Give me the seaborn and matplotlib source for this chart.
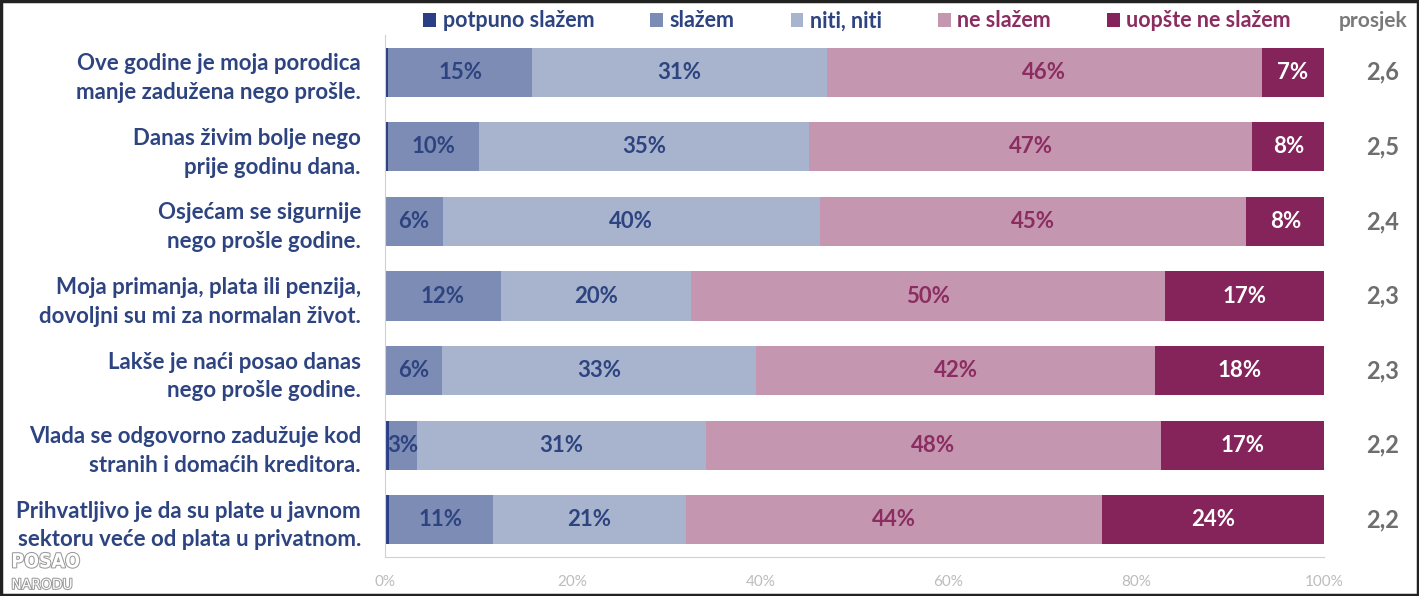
import numpy as np
import pandas as pd
import matplotlib
matplotlib.use("Agg")
import matplotlib.pyplot as plt
import matplotlib.patheffects as pe
from matplotlib.patches import Patch, Rectangle
import seaborn as sns

questions = [
    "Ove godine je moja porodica\nmanje zadužena nego prošle.",
    "Danas živim bolje nego\nprije godinu dana.",
    "Osjećam se sigurnije\nnego prošle godine.",
    "Moja primanja, plata ili penzija,\ndovoljni su mi za normalan život.",
    "Lakše je naći posao danas\nnego prošle godine.",
    "Vlada se odgovorno zadužuje kod\nstranih i domaćih kreditora.",
    "Prihvatljivo je da su plate u javnom\nsektoru veće od plata u privatnom.",
]
answers = ["potpuno slažem", "slažem", "niti, niti", "ne slažem", "uopšte ne slažem"]

potpuno = [0.4, 0.4, 0.0, 0.0, 0.0, 0.5, 0.5]
slazem = [15.3, 9.6, 6.2, 12.4, 6.1, 2.9, 11.0]
niti = [31.4, 35.2, 40.1, 20.2, 33.4, 30.8, 20.6]
ne_slazem = [46.2, 47.1, 45.4, 50.4, 42.5, 48.4, 44.2]
uopste = [6.7, 7.7, 8.3, 17.0, 18.0, 17.4, 23.7]
prosjek = [2.6, 2.5, 2.4, 2.3, 2.3, 2.2, 2.2]

colors = ["#2b3f86", "#7d8cb4", "#a8b3cd", "#c596b0", "#84245a"]
label_colors = [None, "#2e4480", "#2e4480", "#8b2d60", "#ffffff"]
blue_txt = "#2e4480"
mag_txt = "#8b2d60"
grey_txt = "#6e6e6e"

sns.set_style("white")
plt.rcParams["font.family"] = ["Lato", "DejaVu Sans"]

segs = np.array([potpuno, slazem, niti, ne_slazem, uopste])
cum = segs.cumsum(axis=0)

fig = plt.figure(figsize=(14.19, 5.96), dpi=100)
ax = fig.add_axes([0.271, 0.0654, 0.9334 - 0.271, 0.9413 - 0.0654])

# stacked bars: draw cumulative totals from the right, smaller ones on top
for k in range(len(answers) - 1, -1, -1):
    df = pd.DataFrame({"q": questions, "v": cum[k]})
    sns.barplot(data=df, x="v", y="q", orient="h", color=colors[k],
                width=0.66, saturation=1, ax=ax, linewidth=0)

for i in range(len(questions)):
    for k in range(1, len(answers)):
        v = segs[k, i]
        if v < 1.5:
            continue
        xc = cum[k, i] - v / 2
        ax.text(xc, i, f"{round(v)}%", ha="center", va="center",
                fontsize=16, fontweight="bold", color=label_colors[k])
    ax.text(1.062, i, f"{prosjek[i]:.1f}".replace(".", ","),
            transform=ax.get_yaxis_transform(), ha="center", va="center",
            fontsize=17, fontweight="bold", color=grey_txt)

ax.set_xlim(0, 100)
ax.set_ylim(6.5, -0.5)
ax.set_xticks(np.arange(0, 101, 20))
ax.set_xticklabels([f"{t}%" for t in range(0, 101, 20)])
ax.set_xlabel("")
ax.set_ylabel("")
ax.tick_params(axis="x", colors="#bcbcbc", length=5, width=1, labelsize=11, pad=8)
ax.tick_params(axis="y", length=0, pad=17)
ax.set_yticks(np.arange(-0.5, 7, 1), minor=True)
ax.tick_params(axis="y", which="minor", length=6, color="#d0d0d0", width=1)
for lab in ax.get_yticklabels():
    lab.set_color(blue_txt)
    lab.set_fontweight("bold")
    lab.set_fontsize(16)
    lab.set_horizontalalignment("right")
    lab.set_multialignment("right")
    lab.set_linespacing(1.45)
for s in ["top", "right"]:
    ax.spines[s].set_visible(False)
ax.spines["left"].set_color("#d0d0d0")
ax.spines["bottom"].set_color("#d0d0d0")

handles = [Patch(facecolor=c, edgecolor="none") for c in colors]
leg = fig.legend(handles, answers, loc="center", bbox_to_anchor=(0.604, 0.965),
                 ncol=5, frameon=False, handlelength=0.6, handleheight=0.6,
                 handletextpad=0.3, columnspacing=2.6, prop={"size": 15.5, "weight": "bold"})
for t, c in zip(leg.get_texts(), [blue_txt, blue_txt, blue_txt, mag_txt, mag_txt]):
    t.set_color(c)

fig.text(0.968, 0.965, "prosjek", ha="center", va="center", fontsize=15,
         fontweight="bold", color="#7a7a7a")

# watermark
fig.text(0.008, 0.048, "POSAO", fontsize=14, color="white", fontweight="bold",
         family=["DejaVu Sans"], stretch="condensed",
         path_effects=[pe.withStroke(linewidth=1.5, foreground="#9a9a9a")])
fig.text(0.008, 0.012, "NARODU", fontsize=10, color="white",
         family=["DejaVu Sans"],
         path_effects=[pe.withStroke(linewidth=1.5, foreground="#9a9a9a")])

fig.patches.append(Rectangle((0.001, 0.002), 0.998, 0.996, transform=fig.transFigure,
                             fill=False, edgecolor="#222222", linewidth=2.5))

fig.savefig("out.png", dpi=100)
